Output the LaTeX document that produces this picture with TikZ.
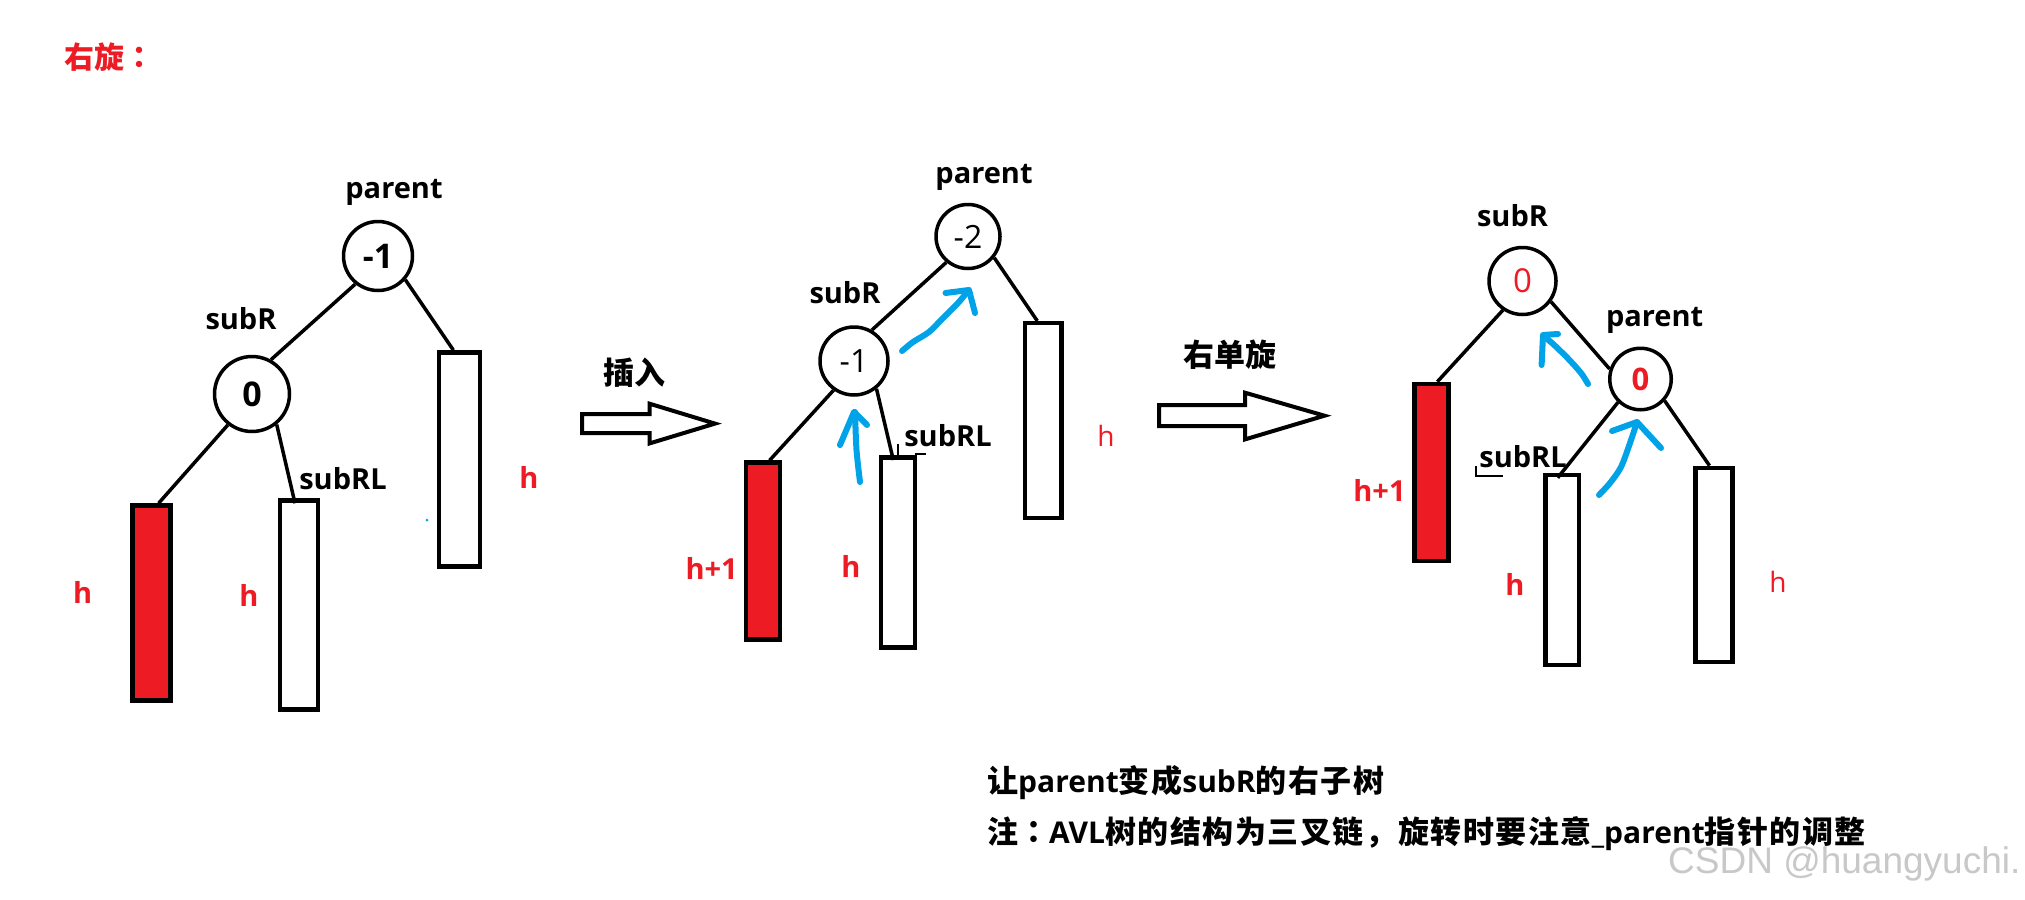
\documentclass[tikz,border=0pt]{standalone}
\usepackage{fontspec}
\setmainfont{Open Sans}
\newfontfamily\cjk{Noto Sans CJK SC}
\newfontfamily\cjkw{Noto Sans CJK SC}[LetterSpace=5]
\newfontfamily\cjktc{Noto Sans CJK TC}
\newfontfamily\cjktcw{Noto Sans CJK TC}[LetterSpace=5]
\newfontfamily\wmfont{Liberation Sans}
\definecolor{pred}{RGB}{237,28,36}
\definecolor{pblue}{RGB}{0,162,232}
\definecolor{wmgray}{RGB}{200,200,200}
\newcommand\zhb[1]{{\cjkw\bfseries\fontsize{31}{36}\selectfont #1}}
\newcommand\zhcolon{{\cjktc\bfseries ：}}
\newcommand\zhcolonw{{\cjktcw\bfseries ：}}
\begin{document}
\begin{tikzpicture}[x=1pt,y=-1pt,
  lab/.style={font=\bfseries\fontsize{29}{34}\selectfont, inner sep=0pt},
  hb/.style={lab, text=pred},
  hr/.style={font=\fontsize{28}{34}\selectfont, text=pred, inner sep=0pt},
  zh/.style={font=\cjk\bfseries\fontsize{31}{36}\selectfont, inner sep=0pt},
  bal/.style={circle, draw, line width=3.5pt, inner sep=0pt, fill=white},
  subtree/.style={draw, line width=4.5pt, inner sep=0pt, fill=white},
  redtree/.style={subtree, fill=pred},
  link/.style={line width=3.5pt},
  hollow/.style={draw, line width=4pt, line join=miter, fill=white},
  bstroke/.style={draw=pblue, line width=6pt, line cap=round, line join=round},
  thin/.style={line width=2pt}
]
\fill[white] (0,0) rectangle (2025,899);
\useasboundingbox (0,0) rectangle (2025,899);

% title
\node[font=\cjk\bfseries\fontsize{30}{34}\selectfont, text=pred, inner sep=0pt, anchor=west] (title) at (64,57) {右旋\zhcolon};

% ---------- tree 1 ----------
\node[bal, minimum size=69pt, font=\bfseries\fontsize{34}{40}\selectfont] (p1) at (378,256) {-1};
\node[bal, minimum size=75pt, font=\bfseries\fontsize{34}{40}\selectfont] (s1) at (252,394) {0};
\node[redtree, minimum width=38pt, minimum height=195pt] (r1) at (151.6,603) {};
\node[subtree, minimum width=38pt, minimum height=209pt] (b2) at (299,605) {};
\node[subtree, minimum width=41pt, minimum height=214pt] (b3) at (459.4,459.4) {};
\draw[link] (p1.231.6) -- (s1.61.4);
\draw[link] (p1.-41) -- ([xshift=-6pt]b3.north);
\draw[link] (s1.232.7) -- ([xshift=7pt]r1.north);
\draw[link] (s1.-51) -- ([xshift=-4pt,yshift=-5pt]b2.north);
\node[lab] (t1p) at (394,192) {parent};
\node[lab] (t1s) at (241,319) {subR};
\node[lab] (t1sl) at (343,479) {subRL};
\node[hb] (t1h1) at (82.6,592) {h};
\node[hb] (t1h2) at (249,595) {h};
\node[hb] (t1h3) at (529,477) {h};
\node[circle, fill=pblue, inner sep=0pt, minimum size=3pt] (dot) at (427,520) {};

% arrow 1
\node[zh] (ins) at (634,373) {插入};
\draw[hollow] (582,414) -- (649.6,414) -- (649.6,403.7) -- (715,423.6) -- (649.6,443.4) -- (649.6,433) -- (582,433) -- cycle;

% ---------- tree 2 ----------
\node[bal, minimum size=64pt, font=\fontsize{32}{38}\selectfont] (p2) at (968,236.5) {-2};
\node[bal, minimum size=68pt, font=\fontsize{32}{38}\selectfont] (s2) at (854,361) {-1};
\node[redtree, minimum width=34pt, minimum height=177pt] (r2) at (762.9,551.1) {};
\node[subtree, minimum width=34pt, minimum height=190pt] (b5) at (897.8,552.3) {};
\node[subtree, minimum width=36.5pt, minimum height=195pt] (b6) at (1043.3,420.7) {};
\draw[link] (p2.230.7) -- (s2.60);
\draw[link] (p2.-39.2) -- ([xshift=-6pt]b6.north);
\draw[link] (s2.235.7) -- ([xshift=6.7pt]r2.north);
\draw[link] (s2.-51.4) -- ([xshift=-4.5pt,yshift=-5pt]b5.north);
\draw[thin] (898,444) -- (898,455);
\draw[thin] (915,454) -- (926,454);
\node[lab] (t2p) at (984,177) {parent};
\node[lab] (t2s) at (845,293) {subR};
\node[lab] (t2sl) at (948,436) {subRL};
\node[hb] (t2h1) at (711.6,568) {h+1};
\node[hb] (t2h2) at (851,566) {h};
\node[hr] (t2h3) at (1106,436) {h};
% blue strokes
\draw[bstroke] plot[smooth] coordinates {(902,351) (913,342) (929,332) (942,319) (958,303) (968,291)};
\draw[bstroke] (945.5,293) -- (969,290) -- (975,313);
\draw[bstroke] plot[smooth] coordinates {(860,482) (856.5,450) (855,412)};
\draw[bstroke] (840,445) -- (854,412) -- (867,425);

% arrow 2
\node[zh] (rot) at (1229.6,355) {右单旋};
\draw[hollow] (1159,405) -- (1245,405) -- (1245,392.7) -- (1324.5,415.7) -- (1245,439.4) -- (1245,426) -- (1159,426) -- cycle;

% ---------- tree 3 ----------
\node[bal, minimum size=67pt, font=\fontsize{33}{38}\selectfont, text=pred] (s3) at (1522.5,281) {0};
\node[bal, minimum size=61.5pt, font=\bfseries\fontsize{31}{36}\selectfont, text=pred] (p3) at (1640.5,379) {0};
\node[redtree, minimum width=34pt, minimum height=177pt] (r3) at (1431.3,472.5) {};
\node[subtree, minimum width=33.5pt, minimum height=190pt] (b8) at (1562,570) {};
\node[subtree, minimum width=36.6pt, minimum height=194pt] (b9) at (1714,564.9) {};
\draw[link] (s3.236.4) -- ([xshift=6pt]r3.north);
\draw[link] (s3.-36.5) -- (p3.162.5);
\draw[link] (p3.226.8) -- ([xshift=-4.3pt,yshift=-5pt]b8.north);
\draw[link] (p3.-42.3) -- ([xshift=-4.5pt]b9.north);
\draw[line width=1.5pt] (1476,466) -- (1476,476) -- (1503,476);
\node[lab] (t3s) at (1512.5,216) {subR};
\node[lab] (t3p) at (1654.6,320) {parent};
\node[lab] (t3sl) at (1523,457) {subRL};
\node[hb] (t3h1) at (1379.5,490) {h+1};
\node[hb] (t3h2) at (1515,584) {h};
\node[hr] (t3h3) at (1778,582) {h};
\draw[bstroke] plot[smooth] coordinates {(1588,384) (1581,373) (1567.5,358) (1552,343) (1543,336)};
\draw[bstroke] (1558,334) -- (1543,335) -- (1541.6,365);
\draw[bstroke] plot[smooth] coordinates {(1599,495) (1610,483) (1621,467) (1630,443) (1637,422)};
\draw[bstroke] (1612,431) -- (1637,422) -- (1661,448);

% ---------- notes ----------
\node[anchor=west, inner sep=0pt, font=\bfseries\fontsize{30}{34}\selectfont] (note1) at (987,783)
  {\zhb{让}parent\zhb{变成}subR\zhb{的右子树}};
\node[anchor=west, inner sep=0pt, font=\bfseries\fontsize{30}{34}\selectfont] (note2) at (987,834)
  {\zhb{注\zhcolonw}AVL\zhb{树的结构为三叉链，旋转时要注意}\_parent\zhb{指针的调整}};
\node[anchor=base west, inner sep=0pt, text=wmgray, font=\wmfont\fontsize{37}{40}\selectfont] (wm) at (1668,873) {CSDN @huangyuchi.};
\end{tikzpicture}
\end{document}
